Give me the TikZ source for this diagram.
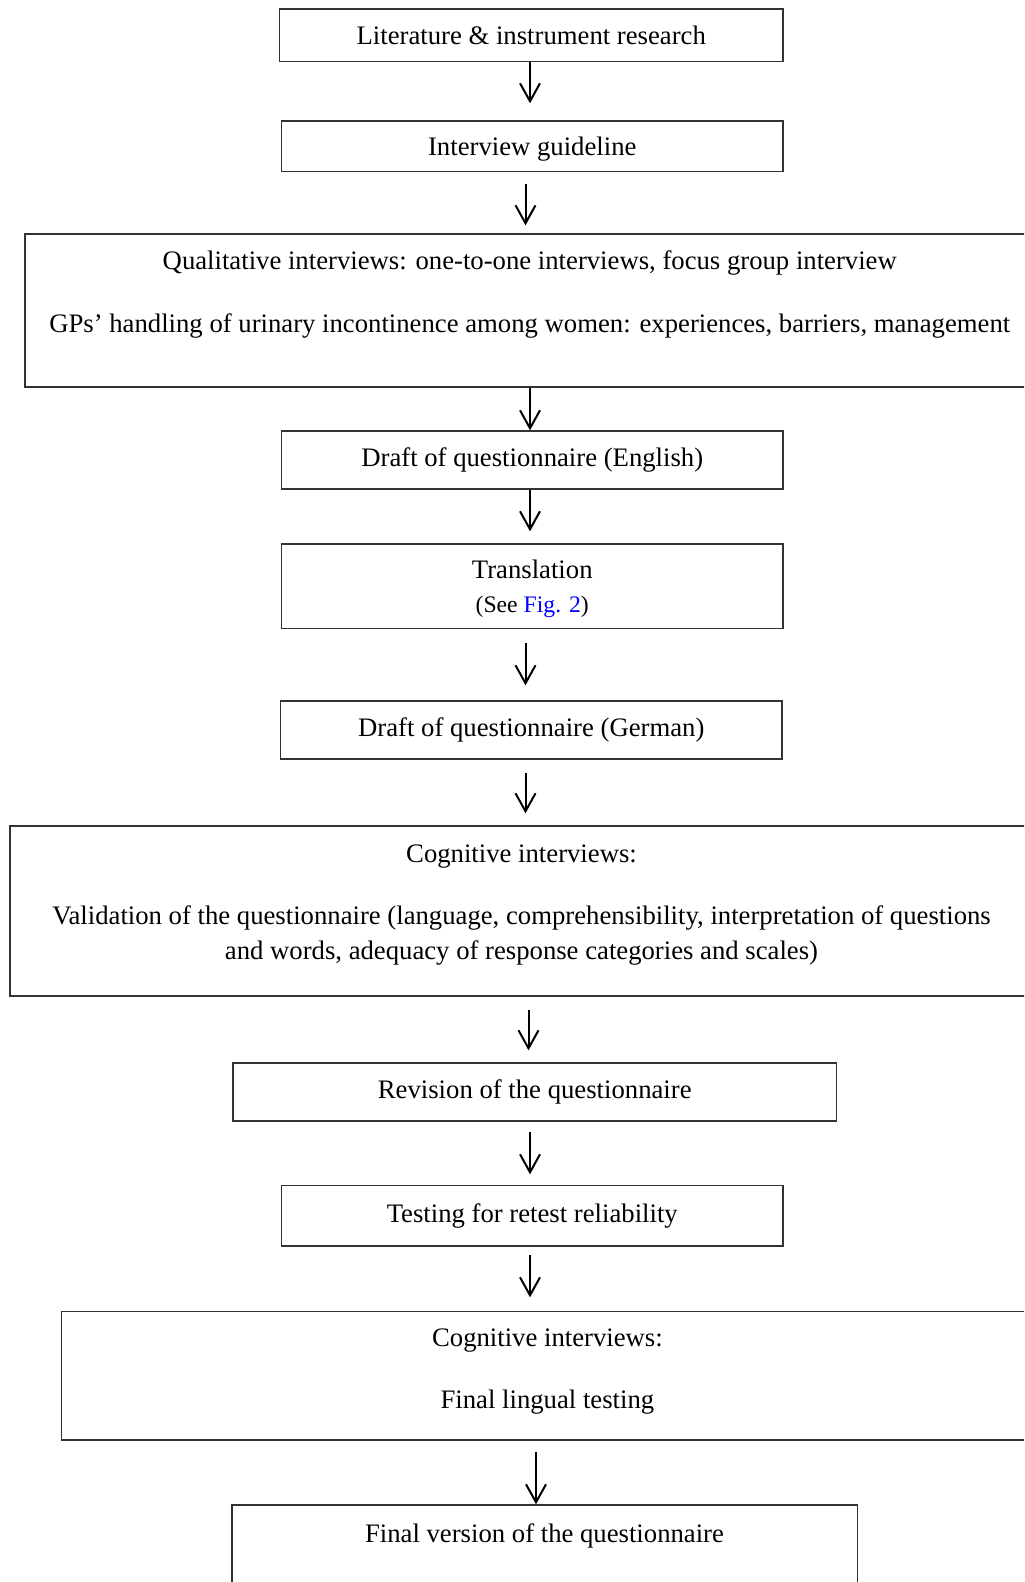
\documentclass[tikz,border=0pt]{standalone}
\usepackage{fontspec}
\setmainfont{Liberation Serif}
\usepackage{xcolor}
\usetikzlibrary{arrows.meta, positioning, calc}

\tikzset{
  box/.style={draw=black!80, line width=0.65pt, rectangle, inner sep=0pt, font=\fontsize{13.35}{16}\selectfont},
  txt/.style={inner sep=0pt, font=\fontsize{13.35}{16}\selectfont},
  flow/.style={-{Straight Barb[length=9pt, width=10pt]}, line width=1pt}
}

\begin{document}
\begin{tikzpicture}[x=0.5pt, y=-0.5pt]
      \useasboundingbox (0, 0) rectangle (1024, 1582);
      \clip (0, 0) rectangle (1024, 1582);

      \node[box, minimum width=251.75pt, minimum height=26.25pt] (lit) at (531.25, 35.25) {Literature \& instrument research};
      \node[box, minimum width=250.75pt, minimum height=25.25pt, text depth=0pt] (guide) at (532.25, 146.25) {Interview guideline};

      \node[box, minimum width=504.75pt, minimum height=76.5pt] (qual) at (529.75, 310.5) {};
      \node[txt] (qualA) at (529.75, 263) {Qualitative interviews: one-to-one interviews, focus group interview};
      \node[txt] (qualB) at (529.75, 326) {GPs’ handling of urinary incontinence among women: experiences, barriers, management};

      \node[box, minimum width=250.75pt, minimum height=29pt] (engl) at (532.25, 460) {Draft of questionnaire (English)};
      \node[box, minimum width=250.75pt, minimum height=42.3pt, align=center, text depth=0pt] (trans) at (532.25, 586.3)
        {Translation\\[1.2pt]{\fontsize{11.85}{13}\selectfont (See \textcolor{blue}{Fig. 2})}};
      \node[box, minimum width=250.75pt, minimum height=29pt] (germ) at (531.25, 730) {Draft of questionnaire (German)};

      \node[box, minimum width=511.5pt, minimum height=85pt] (cogA) at (521.5, 911) {};
      \node[txt] (cogAhead) at (521.5, 856.5) {Cognitive interviews:};
      \node[txt, align=center] (cogAbody) at (521.5, 935.5)
        {Validation of the questionnaire (language, comprehensibility, interpretation of questions\\[1.4pt]and words, adequacy of response categories and scales)};

      \node[box, minimum width=301.75pt, minimum height=29pt] (rev) at (534.75, 1092) {Revision of the questionnaire};
      \node[box, minimum width=250.75pt, minimum height=30.25pt] (test) at (532.25, 1215.75) {Testing for retest reliability};

      \node[box, minimum width=486pt, minimum height=64.25pt] (cogB) at (547.4, 1375.75) {};
      \node[txt] (cogBhead) at (547.4, 1341) {Cognitive interviews:};
      \node[txt] (cogBbody) at (547.4, 1402) {Final lingual testing};

      \node[box, minimum width=312.75pt, minimum height=80pt] (final) at (544.75, 1585) {};
      \node[txt] (finalhead) at (544.5, 1535.6) {Final version of the questionnaire};

      \draw[flow, shorten >=8.5pt] (530,0 |- lit.south) -- (530,0 |- guide.north);
      \draw[flow, shorten <=6pt, shorten >=4pt] (525.5,0 |- guide.south) -- (525.5,0 |- qual.north);
      \draw[flow] (530,0 |- qual.south) -- (530,0 |- engl.north);
      \draw[flow, shorten >=6pt] (530,0 |- engl.south) -- (530,0 |- trans.north);
      \draw[flow, shorten <=7pt, shorten >=7.5pt] (525.5,0 |- trans.south) -- (525.5,0 |- germ.north);
      \draw[flow, shorten <=6.5pt, shorten >=6pt] (525.5,0 |- germ.south) -- (525.5,0 |- cogA.north);
      \draw[flow, shorten <=6.5pt, shorten >=6pt] (528.5,0 |- cogA.south) -- (528.5,0 |- rev.north);
      \draw[flow, shorten <=5pt, shorten >=5.25pt] (530,0 |- rev.south) -- (530,0 |- test.north);
      \draw[flow, shorten <=4pt, shorten >=6.75pt] (530,0 |- test.south) -- (530,0 |- cogB.north);
      \draw[flow, shorten <=5.5pt] (536,0 |- cogB.south) -- (536,0 |- final.north);

    \end{tikzpicture}
\end{document}
